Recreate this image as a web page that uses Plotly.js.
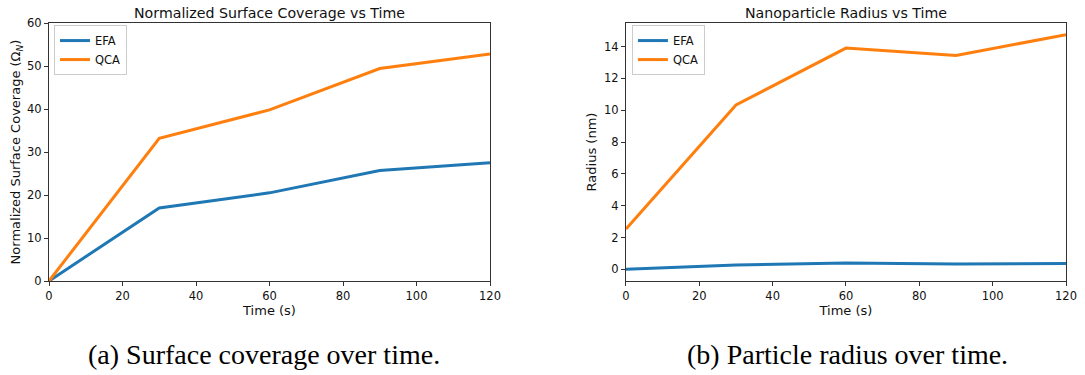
<!DOCTYPE html>
<html>
<head>
<meta charset="utf-8">
<script src="https://cdn.plot.ly/plotly-3.0.1.min.js"></script>
<style>html,body{margin:0;padding:0;background:#fff;}#chart{width:1085px;height:375px;}</style>
</head>
<body>
<div id="chart"></div>
<script>
const time = [0, 30, 60, 90, 120];
const coverageEFA = [0, 17.0, 20.5, 25.7, 27.5];
const coverageQCA = [0, 33.2, 39.8, 49.4, 52.8];
const radiusEFA = [0, 0.27, 0.40, 0.33, 0.36];
const radiusQCA = [2.53, 10.33, 13.91, 13.45, 14.75];
const seriesNames = ["EFA", "QCA"];
const xTicks = [0, 20, 40, 60, 80, 100, 120];
const coverageTicks = [0, 10, 20, 30, 40, 50, 60];
const radiusTicks = [0, 2, 4, 6, 8, 10, 12, 14];

const blue = "#1f77b4", orange = "#ff7f0e";
const font = "DejaVu Sans, sans-serif";

const traces = [
  {x: time, y: coverageEFA, name: seriesNames[0], xaxis: "x", yaxis: "y", legend: "legend", mode: "lines", line: {color: blue, width: 3}},
  {x: time, y: coverageQCA, name: seriesNames[1], xaxis: "x", yaxis: "y", legend: "legend", mode: "lines", line: {color: orange, width: 3}},
  {x: time, y: radiusEFA, name: seriesNames[0], xaxis: "x2", yaxis: "y2", legend: "legend2", mode: "lines", line: {color: blue, width: 3}},
  {x: time, y: radiusQCA, name: seriesNames[1], xaxis: "x2", yaxis: "y2", legend: "legend2", mode: "lines", line: {color: orange, width: 3}}
];

const rMin = Math.min(...radiusEFA, ...radiusQCA), rMax = Math.max(...radiusEFA, ...radiusQCA);
const rPad = (rMax - rMin) * 0.05;

function axis(extra) {
  return Object.assign({
    showgrid: false, zeroline: false, showline: true, mirror: true,
    linecolor: "#333", linewidth: 1, ticks: "outside", ticklen: 4, tickwidth: 1, tickcolor: "#333",
    tickfont: {family: font, size: 11.5, color: "#111"}, automargin: false, fixedrange: true
  }, extra);
}
const titleFont = {family: font, size: 13, color: "#111"};

const layout = {
  width: 1085, height: 375,
  margin: {l: 49, r: 19, t: 23, b: 94},
  paper_bgcolor: "#fff", plot_bgcolor: "#fff",
  font: {family: font, color: "#111"},
  showlegend: true,
  xaxis: axis({domain: [0, 0.43363], range: [0, 120], tickvals: xTicks, anchor: "y",
    title: {text: "Time (s)", font: titleFont, standoff: 1}}),
  yaxis: axis({range: [0, 60], tickvals: coverageTicks, anchor: "x",
    title: {text: "Normalized Surface Coverage (Ω<sub><i>N</i></sub>)", font: titleFont, standoff: 3}}),
  xaxis2: axis({domain: [0.56735, 1], range: [0, 120], tickvals: xTicks, anchor: "y2",
    title: {text: "Time (s)", font: titleFont, standoff: 1}}),
  yaxis2: axis({range: [rMin - rPad, rMax + rPad], tickvals: radiusTicks, anchor: "x2",
    title: {text: "Radius (nm)", font: titleFont, standoff: 4}}),
  legend: {x: 0.0049, y: 0.992, xanchor: "left", yanchor: "top", bgcolor: "rgba(255,255,255,0.8)",
    bordercolor: "#cccccc", borderwidth: 1, font: {family: font, size: 11.5, color: "#111"}, itemwidth: 30, tracegroupgap: 0},
  legend2: {x: 0.5732, y: 0.992, xanchor: "left", yanchor: "top", bgcolor: "rgba(255,255,255,0.8)",
    bordercolor: "#cccccc", borderwidth: 1, font: {family: font, size: 11.5, color: "#111"}, itemwidth: 30, tracegroupgap: 0},
  annotations: [
    {text: "Normalized Surface Coverage vs Time", xref: "paper", yref: "paper", x: 0.2168, y: 1.0388,
      xanchor: "center", yanchor: "middle", showarrow: false, font: {family: font, size: 14.2, color: "#111"}},
    {text: "Nanoparticle Radius vs Time", xref: "paper", yref: "paper", x: 0.7837, y: 1.0388,
      xanchor: "center", yanchor: "middle", showarrow: false, font: {family: font, size: 14.2, color: "#111"}},
    {text: "(a) Surface coverage over time.", xref: "paper", yref: "paper", x: 0.2114, y: -0.283,
      xanchor: "center", yanchor: "middle", showarrow: false, font: {family: "Liberation Serif, serif", size: 28, color: "#000"}},
    {text: "(b) Particle radius over time.", xref: "paper", yref: "paper", x: 0.7855, y: -0.283,
      xanchor: "center", yanchor: "middle", showarrow: false, font: {family: "Liberation Serif, serif", size: 28, color: "#000"}}
  ]
};

Plotly.newPlot("chart", traces, layout, {displayModeBar: false, staticPlot: true});
</script>
</body>
</html>
